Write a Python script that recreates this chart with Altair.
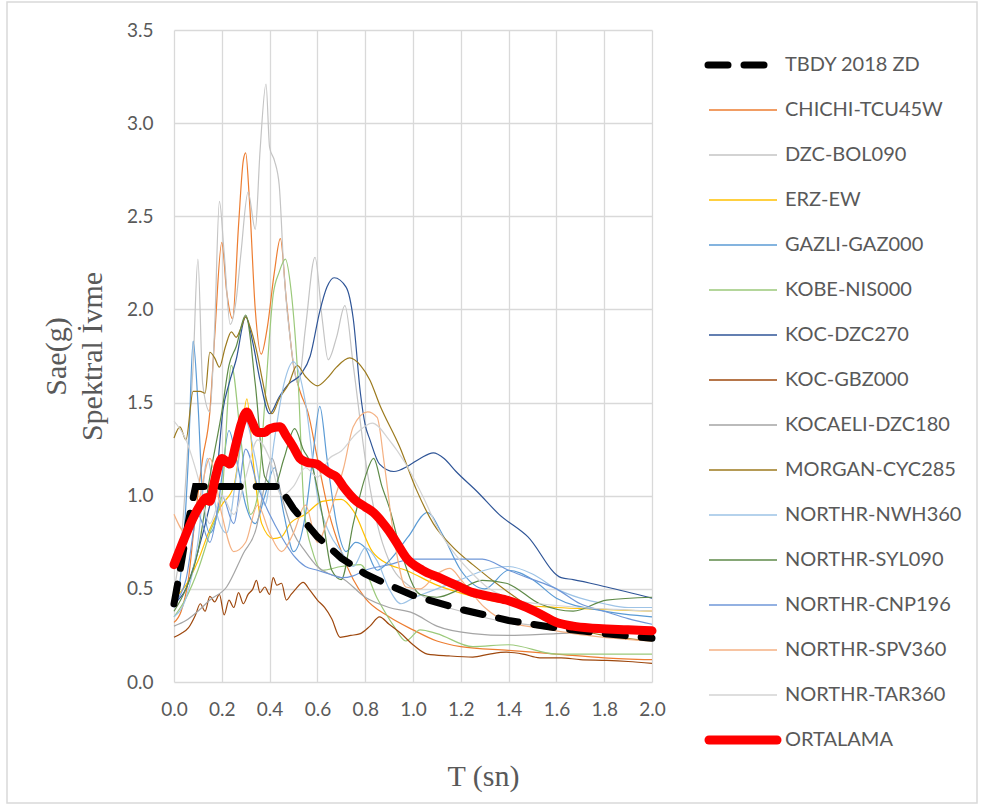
import altair as alt
import pandas as pd

# ---------------- data ----------------
X_TICKS = [0.0, 0.2, 0.4, 0.6, 0.8, 1.0, 1.2, 1.4, 1.6, 1.8, 2.0]
Y_TICKS = [0.0, 0.5, 1.0, 1.5, 2.0, 2.5, 3.0, 3.5]

T_TBDY = [0, 0.02, 0.04, 0.06, 0.09, 0.2, 0.3, 0.44, 0.5, 0.6, 0.7, 0.8, 0.9, 1.0, 1.2, 1.4, 1.6, 1.8, 2.0]
V_TBDY = [0.42, 0.56, 0.71, 0.86, 1.05, 1.05, 1.05, 1.05, 0.93, 0.78, 0.665, 0.58, 0.52, 0.465, 0.39, 0.33, 0.29, 0.26, 0.235]

T_ORT = [0, 0.04, 0.08, 0.11, 0.137, 0.15, 0.17, 0.2, 0.234, 0.26, 0.28, 0.304, 0.325, 0.35, 0.38, 0.4,
         0.443, 0.47, 0.5, 0.527, 0.555, 0.597, 0.62, 0.653, 0.68, 0.708, 0.764, 0.8, 0.834, 0.87, 0.9,
         0.94, 0.97, 1.04, 1.11, 1.18, 1.25, 1.32, 1.39, 1.475, 1.54, 1.6, 1.67, 1.74, 1.81, 1.9, 2.0]
V_ORT = [0.63, 0.76, 0.88, 0.95, 0.99, 0.97, 1.08, 1.2, 1.17, 1.28, 1.38, 1.45, 1.40, 1.34, 1.34, 1.36,
         1.37, 1.32, 1.26, 1.2, 1.18, 1.17, 1.15, 1.12, 1.1, 1.05, 0.97, 0.94, 0.91, 0.86, 0.81,
         0.73, 0.67, 0.6, 0.56, 0.52, 0.48, 0.46, 0.44, 0.40, 0.36, 0.32, 0.30, 0.29, 0.285, 0.28, 0.275]

T_CHICHI = [0, 0.03, 0.06, 0.09, 0.12, 0.15, 0.17, 0.2, 0.22, 0.245, 0.27, 0.29, 0.3, 0.315, 0.34, 0.365,
            0.39, 0.42, 0.445, 0.47, 0.5, 0.53, 0.56, 0.6, 0.65, 0.7, 0.75, 0.8, 0.9, 1.0, 1.1, 1.2, 1.4,
            1.6, 1.8, 2.0]
V_CHICHI = [0.32, 0.38, 0.55, 0.9, 1.2, 1.45, 1.85, 2.36, 2.1, 1.95, 2.45, 2.8, 2.84, 2.6, 2.0, 1.76,
            1.9, 2.2, 2.38, 2.05, 1.7, 1.55, 1.45, 1.2, 0.9, 0.7, 0.55, 0.45, 0.35, 0.28, 0.22, 0.19, 0.17,
            0.15, 0.13, 0.12]

T_BOL = [0, 0.03, 0.06, 0.08, 0.1, 0.12, 0.15, 0.17, 0.19, 0.21, 0.235, 0.26, 0.28, 0.31, 0.34, 0.36,
         0.385, 0.4, 0.42, 0.44, 0.46, 0.49, 0.52, 0.55, 0.59, 0.62, 0.645, 0.68, 0.715, 0.75, 0.8, 0.85,
         0.9, 1.0, 1.1, 1.2, 1.4, 1.6, 1.8, 2.0]
V_BOL = [0.5, 0.75, 1.3, 1.7, 2.27, 1.6, 1.45, 1.9, 2.58, 2.3, 1.92, 2.05, 2.3, 2.63, 2.43, 2.85,
         3.21, 2.87, 2.8, 2.67, 2.2, 1.8, 1.6, 1.9, 2.28, 1.95, 1.73, 1.85, 2.02, 1.7, 1.2, 0.85,
         0.65, 0.5, 0.42, 0.38, 0.32, 0.3, 0.3, 0.28]

T_ERZ = [0, 0.05, 0.1, 0.15, 0.2, 0.25, 0.28, 0.305, 0.33, 0.367, 0.415, 0.45, 0.485, 0.55, 0.62, 0.7,
         0.75, 0.83, 0.9, 0.97, 1.1, 1.25, 1.4, 1.6, 1.8, 2.0]
V_ERZ = [0.45, 0.52, 0.65, 0.82, 0.95, 1.05, 1.3, 1.52, 1.2, 0.85, 0.77, 0.78, 0.85, 0.9, 0.97, 0.98,
         0.92, 0.7, 0.63, 0.6, 0.52, 0.46, 0.42, 0.4, 0.39, 0.38]

T_GAZLI = [0, 0.03, 0.06, 0.08, 0.1, 0.12, 0.15, 0.18, 0.2, 0.23, 0.26, 0.3, 0.34, 0.38, 0.42, 0.46,
           0.5, 0.55, 0.58, 0.61, 0.64, 0.68, 0.72, 0.76, 0.8, 0.85, 0.9, 0.98, 1.06, 1.12, 1.2, 1.3,
           1.4, 1.5, 1.6, 1.8, 2.0]
V_GAZLI = [0.4, 0.6, 1.2, 1.83, 1.5, 1.0, 0.8, 0.9, 1.1, 1.35, 1.2, 0.95, 0.85, 1.0, 1.15, 0.9,
           0.7, 0.9, 1.2, 1.48, 1.2, 0.85, 0.7, 0.75, 0.72, 0.6, 0.65, 0.78, 0.91, 0.8, 0.6, 0.5,
           0.6, 0.55, 0.45, 0.38, 0.35]

T_KOBE = [0, 0.05, 0.1, 0.15, 0.2, 0.24, 0.28, 0.32, 0.35, 0.38, 0.415, 0.44, 0.466, 0.49, 0.52, 0.545,
          0.58, 0.62, 0.7, 0.78, 0.85, 0.92, 0.97, 1.03, 1.1, 1.25, 1.4, 1.6, 1.8, 2.0]
V_KOBE = [0.35, 0.45, 0.6, 0.8, 1.0, 1.7, 1.3, 0.9, 1.0, 1.5, 2.08, 2.2, 2.27, 2.1, 1.6, 0.92,
          0.7, 0.6, 0.62, 0.63, 0.45, 0.3, 0.22, 0.28, 0.26, 0.19, 0.2, 0.15, 0.15, 0.15]

T_DZC270 = [0, 0.05, 0.1, 0.15, 0.18, 0.205, 0.23, 0.26, 0.3, 0.33, 0.36, 0.4, 0.44, 0.48, 0.53, 0.57,
            0.61, 0.64, 0.67, 0.72, 0.75, 0.78, 0.8, 0.82, 0.86, 0.92, 0.98, 1.03, 1.085, 1.13, 1.18,
            1.27, 1.36, 1.48, 1.62, 1.67, 1.81, 2.0]
V_DZC270 = [0.42, 0.5, 0.7, 0.95, 1.13, 1.46, 1.6, 1.73, 1.96, 1.82, 1.62, 1.44, 1.53, 1.6, 1.65, 1.75,
            1.99, 2.12, 2.17, 2.12, 1.95, 1.55, 1.38, 1.3, 1.17, 1.13, 1.16, 1.2, 1.23, 1.2, 1.13,
            1.02, 0.9, 0.78, 0.56, 0.55, 0.51, 0.45]

T_GBZ = [0, 0.03, 0.06, 0.09, 0.11, 0.13, 0.15, 0.17, 0.19, 0.21, 0.23, 0.25, 0.27, 0.29, 0.31, 0.33,
         0.345, 0.36, 0.38, 0.4, 0.415, 0.43, 0.45, 0.47, 0.49, 0.51, 0.54, 0.57, 0.6, 0.63, 0.66, 0.695,
         0.74, 0.78, 0.82, 0.86, 0.9, 0.95, 1.0, 1.06, 1.15, 1.25, 1.32, 1.39, 1.46, 1.53, 1.62, 1.7,
         1.81, 1.9, 2.0]
V_GBZ = [0.24, 0.26, 0.29, 0.36, 0.42, 0.38, 0.46, 0.43, 0.47, 0.36, 0.44, 0.4, 0.48, 0.42, 0.47, 0.5,
         0.545, 0.48, 0.51, 0.47, 0.56, 0.52, 0.53, 0.44, 0.47, 0.5, 0.535, 0.49, 0.44, 0.4, 0.34, 0.24,
         0.25, 0.26, 0.3, 0.35, 0.31, 0.26, 0.2, 0.15, 0.14, 0.134, 0.15, 0.16, 0.15, 0.13, 0.13, 0.12,
         0.116, 0.11, 0.1]

T_DZC180 = [0, 0.05, 0.1, 0.15, 0.22, 0.29, 0.345, 0.375, 0.41, 0.45, 0.5, 0.55, 0.6, 0.65, 0.7, 0.8,
            0.9, 1.0, 1.1, 1.25, 1.4, 1.6, 1.8, 2.0]
V_DZC180 = [0.3, 0.33, 0.38, 0.44, 0.51, 0.69, 0.83, 1.03, 1.2, 1.0, 0.8, 0.7, 0.62, 0.58, 0.56, 0.455,
            0.4, 0.37, 0.3, 0.26, 0.25, 0.26, 0.27, 0.28]

T_MORGAN = [0, 0.025, 0.05, 0.08, 0.11, 0.13, 0.15, 0.17, 0.19, 0.215, 0.24, 0.26, 0.28, 0.3, 0.32, 0.345,
            0.37, 0.39, 0.41, 0.44, 0.48, 0.515, 0.55, 0.6, 0.64, 0.68, 0.735, 0.78, 0.82, 0.86, 0.945,
            1.015, 1.085, 1.17, 1.25, 1.39, 1.53, 1.67, 1.8, 2.0]
V_MORGAN = [1.31, 1.37, 1.3, 1.56, 1.56, 1.55, 1.77, 1.74, 1.69, 1.8, 1.88, 1.85, 1.9, 1.96, 1.9, 1.78,
            1.62, 1.5, 1.44, 1.52, 1.6, 1.7, 1.64, 1.59, 1.63, 1.69, 1.74, 1.7, 1.62, 1.49, 1.26,
            1.03, 0.85, 0.72, 0.63, 0.49, 0.37, 0.29, 0.25, 0.22]

T_NWH = [0, 0.05, 0.1, 0.14, 0.18, 0.22, 0.26, 0.3, 0.34, 0.38, 0.42, 0.46, 0.5, 0.55, 0.6, 0.65, 0.7,
         0.75, 0.8, 0.85, 0.9, 0.95, 1.0, 1.1, 1.2, 1.3, 1.4, 1.5, 1.6, 1.7, 1.8, 1.9, 2.0]
V_NWH = [0.35, 0.45, 0.75, 1.2, 0.9, 0.8, 1.1, 1.4, 1.2, 0.95, 1.3, 1.6, 1.72, 1.5, 1.0, 0.8, 0.7,
         0.62, 0.72, 0.65, 0.5, 0.42, 0.45, 0.5, 0.55, 0.6, 0.62, 0.58, 0.5, 0.45, 0.42, 0.4, 0.4]

T_SYL = [0, 0.05, 0.1, 0.15, 0.2, 0.23, 0.26, 0.3, 0.34, 0.38, 0.42, 0.46, 0.505, 0.54, 0.58, 0.62,
         0.66, 0.7, 0.75, 0.8, 0.835, 0.87, 0.9, 0.95, 1.03, 1.1, 1.2, 1.29, 1.39, 1.53, 1.67, 1.81, 2.0]
V_SYL = [0.38, 0.5, 0.7, 1.1, 1.45, 1.7, 1.8, 1.97, 1.6, 1.1, 1.05, 1.2, 1.36, 1.25, 1.15, 0.9,
         0.6, 0.55, 0.85, 1.1, 1.2, 1.05, 0.94, 0.7, 0.47, 0.455, 0.5, 0.545, 0.53, 0.42, 0.38, 0.44, 0.455]

T_CNP = [0, 0.05, 0.1, 0.15, 0.2, 0.25, 0.3, 0.35, 0.4, 0.45, 0.5, 0.55, 0.6, 0.65, 0.7, 0.75, 0.8,
         0.9, 1.0, 1.1, 1.2, 1.29, 1.4, 1.48, 1.6, 1.7, 1.8, 1.9, 2.0]
V_CNP = [0.42, 0.55, 0.9, 0.75, 1.0, 0.85, 1.25, 1.05, 0.9, 0.78, 0.68, 0.62, 0.6, 0.58, 0.56, 0.57, 0.6,
         0.63, 0.66, 0.66, 0.66, 0.66, 0.6, 0.56, 0.5, 0.42, 0.38, 0.34, 0.31]

T_SPV = [0, 0.05, 0.1, 0.15, 0.2, 0.25, 0.3, 0.35, 0.4, 0.45, 0.5, 0.55, 0.6, 0.65, 0.71, 0.75, 0.81,
         0.85, 0.88, 0.92, 0.97, 1.03, 1.1, 1.155, 1.2, 1.3, 1.4, 1.53, 1.67, 1.8, 2.0]
V_SPV = [0.9, 0.8, 0.95, 1.2, 0.9, 0.7, 0.75, 0.95, 0.8, 0.7, 0.8, 0.95, 0.75, 0.9, 1.15, 1.37, 1.45,
         1.42, 1.17, 0.78, 0.51, 0.5, 0.58, 0.61, 0.55, 0.4, 0.32, 0.29, 0.26, 0.24, 0.22]

T_TAR = [0, 0.05, 0.1, 0.15, 0.2, 0.25, 0.3, 0.35, 0.4, 0.45, 0.5, 0.55, 0.6, 0.65, 0.7, 0.76, 0.83,
         0.9, 0.97, 1.04, 1.11, 1.18, 1.25, 1.32, 1.39, 1.46, 1.53, 1.7, 1.85, 2.0]
V_TAR = [1.4, 1.3, 1.1, 0.85, 1.0, 0.9, 1.1, 1.3, 1.2, 1.0, 1.05, 1.15, 1.1, 1.2, 1.24, 1.33, 1.39,
         1.3, 1.17, 1.0, 0.81, 0.68, 0.58, 0.5, 0.455, 0.43, 0.42, 0.4, 0.39, 0.38]

THIN_NAMES = ["CHICHI-TCU45W", "DZC-BOL090", "ERZ-EW", "GAZLI-GAZ000", "KOBE-NIS000", "KOC-DZC270",
              "KOC-GBZ000", "KOCAELI-DZC180", "MORGAN-CYC285", "NORTHR-NWH360", "NORTHR-SYL090",
              "NORTHR-CNP196", "NORTHR-SPV360", "NORTHR-TAR360"]
THIN_COLORS = ["#ED7D31", "#C4C4C4", "#FFC000", "#5B9BD5", "#9BC97A", "#2F5597", "#9E480E",
               "#A5A5A5", "#9C7A1E", "#9DC3E6", "#5E8A48", "#6F97D8", "#F4B183", "#D3D3D3"]
THIN_T = [T_CHICHI, T_BOL, T_ERZ, T_GAZLI, T_KOBE, T_DZC270, T_GBZ, T_DZC180, T_MORGAN, T_NWH,
          T_SYL, T_CNP, T_SPV, T_TAR]
THIN_V = [V_CHICHI, V_BOL, V_ERZ, V_GAZLI, V_KOBE, V_DZC270, V_GBZ, V_DZC180, V_MORGAN, V_NWH,
          V_SYL, V_CNP, V_SPV, V_TAR]

TBDY_NAME = "TBDY 2018 ZD"
ORT_NAME = "ORTALAMA"
LEGEND_NAMES = [TBDY_NAME] + THIN_NAMES + [ORT_NAME]

# ---------------- tables ----------------
rows = []
for n, ts, vs in zip(THIN_NAMES, THIN_T, THIN_V):
    for t, v in zip(ts, vs):
        rows.append({"name": n, "T": t, "V": v})
df_thin = pd.DataFrame(rows)
df_tbdy = pd.DataFrame({"T": T_TBDY, "V": V_TBDY})
df_ort = pd.DataFrame({"T": T_ORT, "V": V_ORT})
df_leg = pd.DataFrame({"name": LEGEND_NAMES})
df_leg_thin = df_leg[df_leg["name"].isin(THIN_NAMES)]
df_leg_tbdy = df_leg[df_leg["name"] == TBDY_NAME]
df_leg_ort = df_leg[df_leg["name"] == ORT_NAME]

GRAY_TXT = "#595959"
GRID = "#D9D9D9"
LBL_FONT = "Lato"

x_enc = alt.X("T:Q", scale=alt.Scale(domain=[0, 2.0], nice=False),
              axis=alt.Axis(values=X_TICKS, format=".1f", title="T (sn)", grid=True,
                            gridColor=GRID, gridWidth=1.3, domain=False, ticks=False,
                            labelFont=LBL_FONT, labelFontSize=19, labelColor=GRAY_TXT,
                            labelPadding=18, labelFlush=False, labelOverlap=False,
                            titleFont="Liberation Serif", titleFontSize=30,
                            titleFontWeight="normal", titleColor=GRAY_TXT,
                            titleX=309, titleY=103, titleAlign="center",
                            titleBaseline="alphabetic"))
y_enc = alt.Y("V:Q", scale=alt.Scale(domain=[0, 3.5], nice=False),
              axis=alt.Axis(values=Y_TICKS, format=".1f", title=["Sae(g)", "Spektral İvme"],
                            grid=True, gridColor=GRID, gridWidth=1.3, domain=False, ticks=False,
                            labelFont=LBL_FONT, labelFontSize=19, labelColor=GRAY_TXT,
                            labelPadding=21, labelFlush=False, labelOverlap=False,
                            titleFont="Liberation Serif", titleFontSize=30,
                            titleFontWeight="normal", titleColor=GRAY_TXT,
                            titleAngle=270, titleX=-109, titleY=326, titleAlign="center",
                            titleBaseline="alphabetic", titleLineHeight=36))

color_scale = alt.Scale(domain=THIN_NAMES, range=THIN_COLORS)

thin = alt.Chart(df_thin).mark_line(strokeWidth=1.2, interpolate="monotone").encode(
    x=x_enc, y=y_enc,
    color=alt.Color("name:N", scale=color_scale, legend=None),
)
tbdy = alt.Chart(df_tbdy).mark_line(color="black", strokeWidth=7, strokeDash=[20, 16],
                                    strokeCap="round").encode(x=x_enc, y=y_enc)
ort = alt.Chart(df_ort).mark_line(color="#FF0000", strokeWidth=9, strokeCap="round",
                                  strokeJoin="round", interpolate="monotone").encode(x=x_enc, y=y_enc)

lines = alt.layer(thin, tbdy, ort)

# ---------------- legend (drawn from the names list through a point scale) ----------------
leg_y = alt.Y("name:N", scale=alt.Scale(type="point", domain=LEGEND_NAMES, range=[35, 710], padding=0),
              axis=None)

leg_thin = alt.Chart(df_leg_thin).mark_rule(strokeWidth=1.6).encode(
    x=alt.value(535), x2=alt.value(603), y=leg_y,
    color=alt.Color("name:N", scale=color_scale, legend=None))
leg_tbdy = alt.Chart(df_leg_tbdy).mark_rule(color="black", strokeWidth=7, strokeDash=[20, 16],
                                            strokeCap="round").encode(
    x=alt.value(534), x2=alt.value(591), y=leg_y)
leg_ort = alt.Chart(df_leg_ort).mark_rule(color="#FF0000", strokeWidth=9, strokeCap="round").encode(
    x=alt.value(535), x2=alt.value(603), y=leg_y)
leg_text = alt.Chart(df_leg).mark_text(align="left", baseline="middle", font=LBL_FONT, fontSize=20,
                                       color=GRAY_TXT).encode(
    x=alt.value(611), y=leg_y, text="name:N")
frame = alt.Chart(pd.DataFrame({"k": [0]})).mark_rect(fill=None, stroke=GRID, strokeWidth=1.5).encode(
    x=alt.value(-167), x2=alt.value(803), y=alt.value(-28), y2=alt.value(773))

legend = alt.layer(leg_thin, leg_tbdy, leg_ort, leg_text, frame)

chart = alt.layer(lines, legend).resolve_scale(y="independent").properties(
    width=478, height=652,
    autosize=alt.AutoSizeParams(type="none"),
    padding={"left": 174, "top": 30, "right": 329, "bottom": 123},
    background="white",
).configure_view(stroke=None)

chart.save("out.html", embed_options={"renderer": "svg", "actions": False})
